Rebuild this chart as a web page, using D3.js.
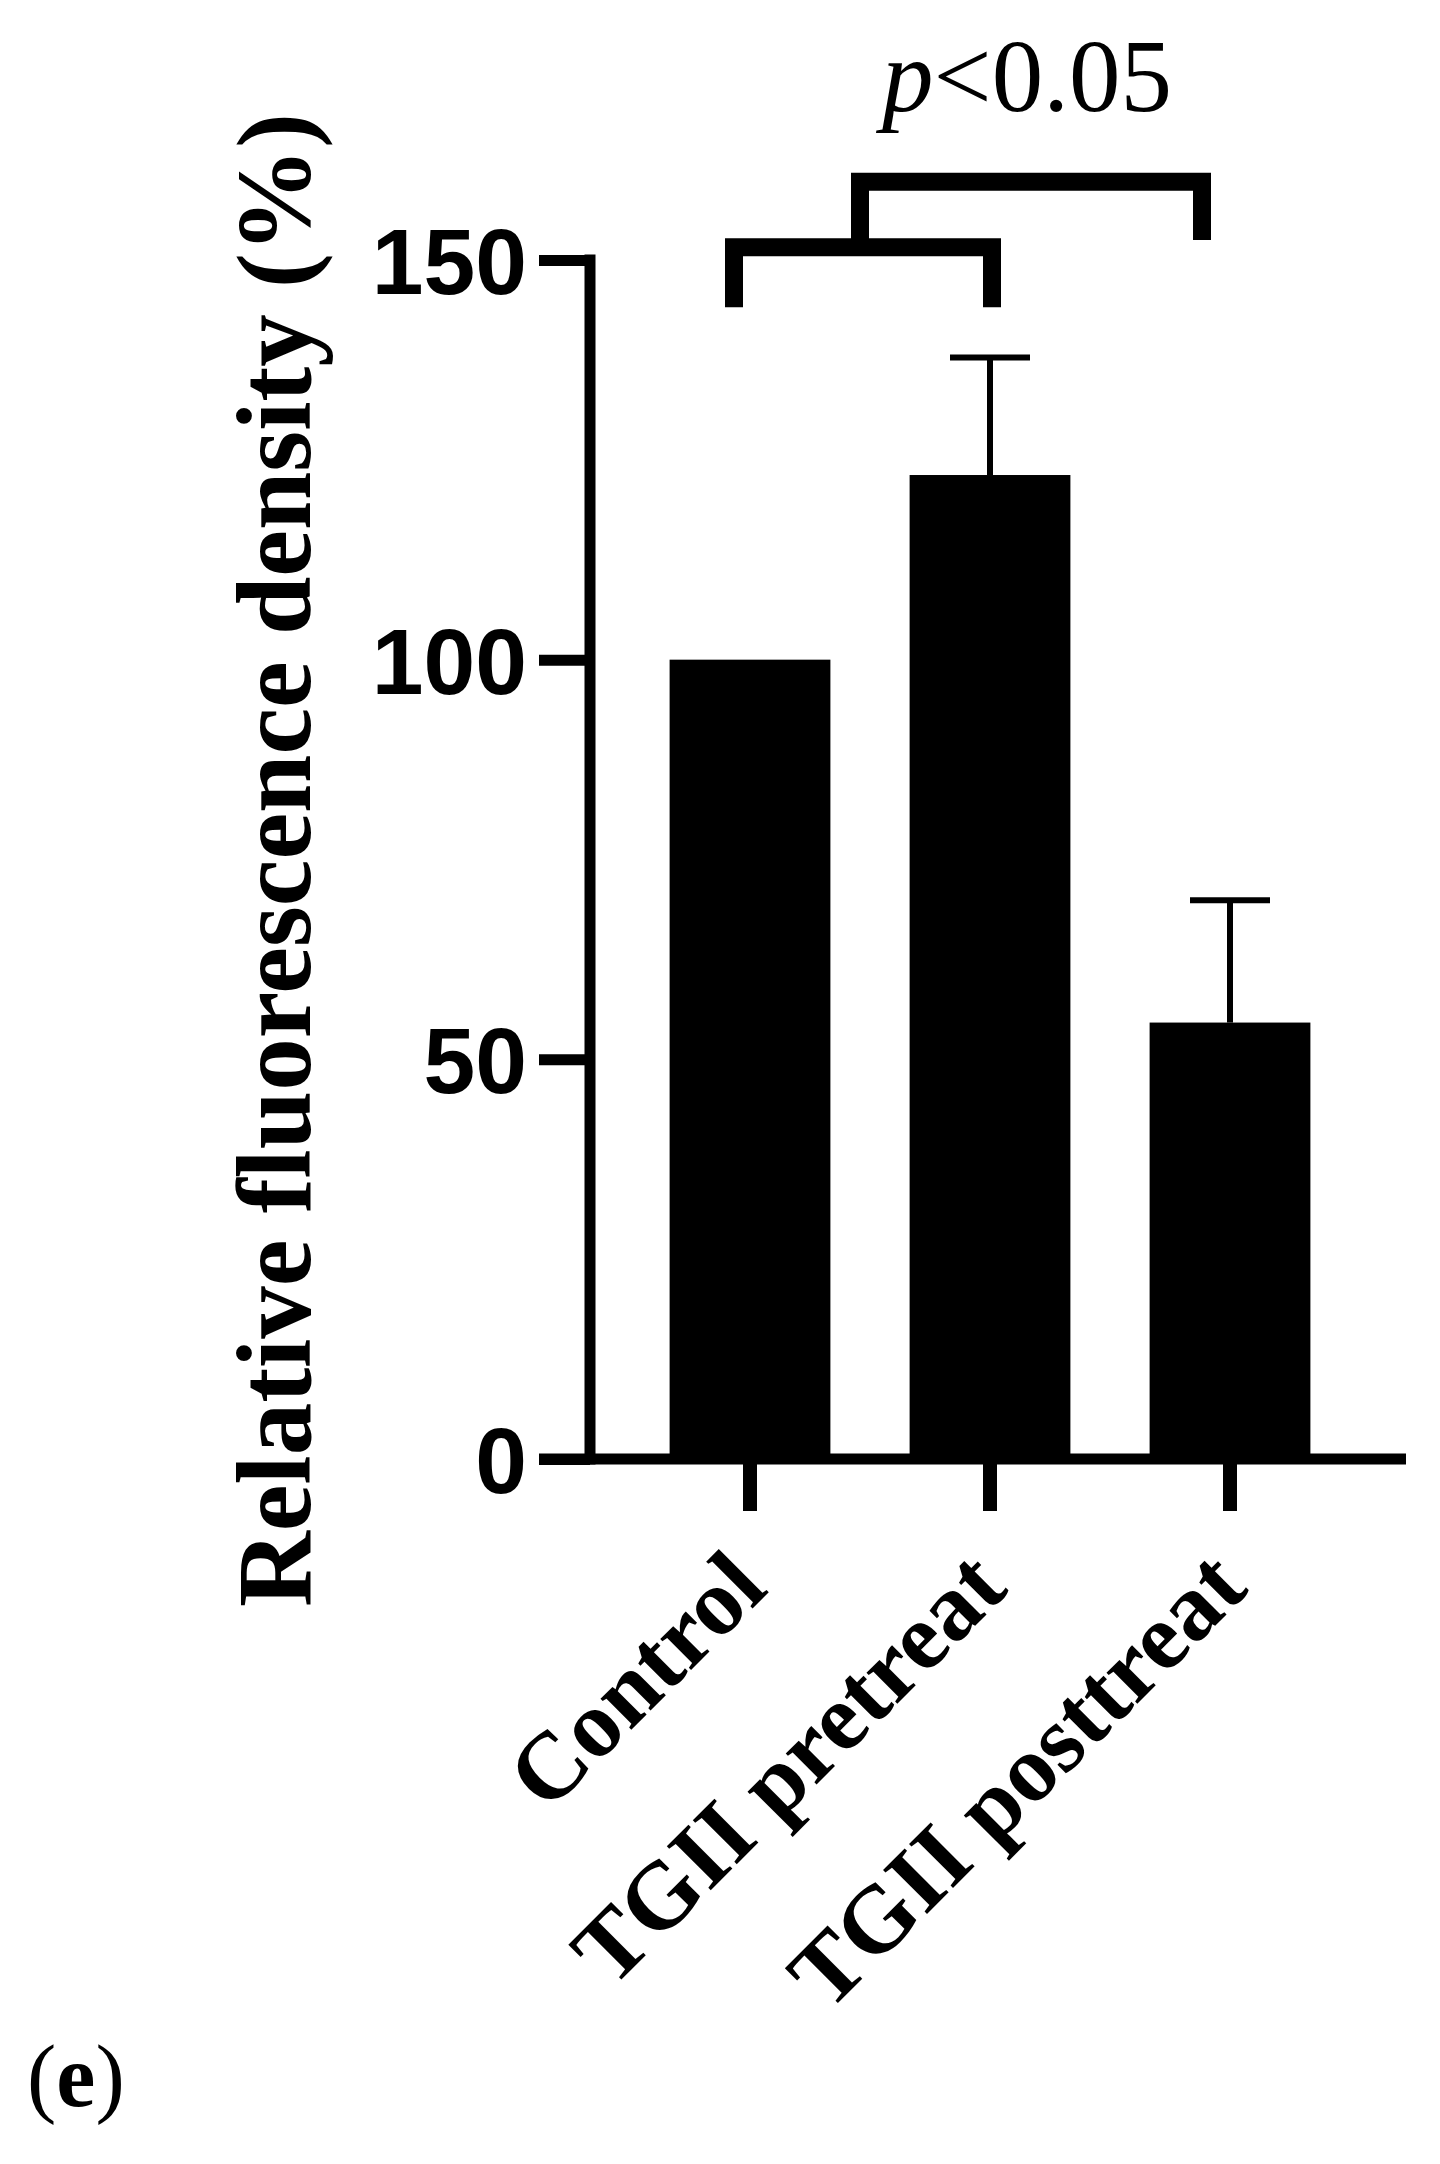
<!DOCTYPE html>
<html>
<head>
<meta charset="utf-8">
<script src="https://cdn.jsdelivr.net/npm/d3@7"></script>
<style>
  body { margin: 0; background: #fff; }
  svg { display: block; }
</style>
</head>
<body>
<div id="chart"></div>
<script>
'use strict';

// data
const categories = ['Control', 'TGII pretreat', 'TGII posttreat'];
const means = [100, 123.1, 54.6];
const errors = [0, 14.7, 15.3];
const yTicks = [0, 50, 100, 150];
const yTitle = 'Relative fluorescence density (%)';
const sigLabel = '<0.05';

const width = 1440, height = 2164;

const svg = d3.select('#chart').append('svg')
  .attr('width', width)
  .attr('height', height);

const x = d3.scaleBand()
  .domain(categories)
  .range([630, 1350])
  .paddingInner(0.33)
  .paddingOuter(0.165);

const y = d3.scaleLinear()
  .domain([0, 150])
  .range([1459, 260]);

const cx = d => x(d) + x.bandwidth() / 2;

// bars
svg.selectAll('rect.bar').data(categories)
  .enter().append('rect')
  .classed('bar', true)
  .attr('x', d => x(d))
  .attr('y', (d, i) => y(means[i]))
  .attr('width', x.bandwidth())
  .attr('height', (d, i) => y(0) - y(means[i]))
  .attr('fill', '#000');

// error bars (upper only)
const eb = svg.selectAll('g.err').data(categories.filter((d, i) => errors[i] > 0))
  .enter().append('g').classed('err', true);

eb.append('line')
  .attr('x1', d => cx(d)).attr('x2', d => cx(d))
  .attr('y1', d => y(means[categories.indexOf(d)]))
  .attr('y2', d => y(means[categories.indexOf(d)] + errors[categories.indexOf(d)]))
  .attr('stroke', '#000').attr('stroke-width', 6);

eb.append('line')
  .attr('x1', d => cx(d) - 40).attr('x2', d => cx(d) + 40)
  .attr('y1', d => y(means[categories.indexOf(d)] + errors[categories.indexOf(d)]))
  .attr('y2', d => y(means[categories.indexOf(d)] + errors[categories.indexOf(d)]))
  .attr('stroke', '#000').attr('stroke-width', 6);

// y axis
const yAxis = d3.axisLeft(y)
  .tickValues(yTicks)
  .tickSize(51)
  .tickPadding(14)
  .tickSizeOuter(0);

const yG = svg.append('g')
  .attr('transform', 'translate(590,0)')
  .call(yAxis);

yG.select('.domain')
  .attr('d', `M0,${y(150) - 5.5}V${y(0) + 5.5}`)
  .attr('stroke', '#000')
  .attr('stroke-width', 11);
yG.selectAll('.tick line')
  .attr('x2', -51)
  .attr('stroke', '#000')
  .attr('stroke-width', 11);
yG.selectAll('.tick text')
  .attr('font-family', '"Liberation Sans", Arial, sans-serif')
  .attr('font-weight', 'bold')
  .attr('font-size', 93)
  .attr('fill', '#000')
  .attr('x', -63)
  .attr('dy', '0.36em');

// x axis
const xAxis = d3.axisBottom(x)
  .tickSize(52)
  .tickSizeOuter(0)
  .tickFormat('');

const xG = svg.append('g')
  .attr('transform', `translate(0,${y(0)})`)
  .call(xAxis);

xG.select('.domain')
  .attr('d', 'M539,0H1406')
  .attr('stroke', '#000')
  .attr('stroke-width', 11);
xG.selectAll('.tick line')
  .attr('stroke', '#000')
  .attr('stroke-width', 14);

// rotated category labels
svg.selectAll('text.xlab').data(categories)
  .enter().append('text')
  .classed('xlab', true)
  .attr('transform', d => `translate(${cx(d) + 20},1591) rotate(-45)`)
  .attr('text-anchor', 'end')
  .attr('font-family', '"Liberation Serif", "Times New Roman", serif')
  .attr('font-weight', 'bold')
  .attr('font-size', 95)
  .attr('fill', '#000')
  .text(d => d);

// y title
svg.append('text')
  .attr('transform', 'translate(310,860) rotate(-90)')
  .attr('text-anchor', 'middle')
  .attr('font-family', '"Liberation Serif", "Times New Roman", serif')
  .attr('font-weight', 'bold')
  .attr('font-size', 105)
  .attr('fill', '#000')
  .text(yTitle);

// significance brackets
const bracket = (pts) => svg.append('path')
  .attr('d', d3.line()(pts))
  .attr('fill', 'none')
  .attr('stroke', '#000')
  .attr('stroke-width', 18)
  .attr('stroke-linejoin', 'miter');

const l0 = cx(categories[0]) - 16, l1 = cx(categories[1]) + 2;
bracket([[l0, y(144.1)], [l0, y(151.6)], [l1, y(151.6)], [l1, y(144.1)]]);

const u0 = (l0 + l1) / 2 - 3, u1 = cx(categories[2]) - 28;
bracket([[u0, y(151.6)], [u0, y(159.8)], [u1, y(159.8)], [u1, y(152.5)]]);

const p = svg.append('text')
  .attr('x', 1027)
  .attr('y', 111)
  .attr('text-anchor', 'middle')
  .attr('font-family', '"Liberation Serif", "Times New Roman", serif')
  .attr('font-size', 103)
  .attr('fill', '#000');
p.append('tspan').attr('font-style', 'italic').text('p');
p.append('tspan').text(sigLabel);

// panel letter
const e = svg.append('text')
  .attr('x', 27)
  .attr('y', 2106)
  .attr('font-family', '"Liberation Serif", "Times New Roman", serif')
  .attr('font-size', 88)
  .attr('fill', '#000');
e.append('tspan').text('(');
e.append('tspan').attr('font-weight', 'bold').text('e');
e.append('tspan').text(')');
</script>
</body>
</html>
